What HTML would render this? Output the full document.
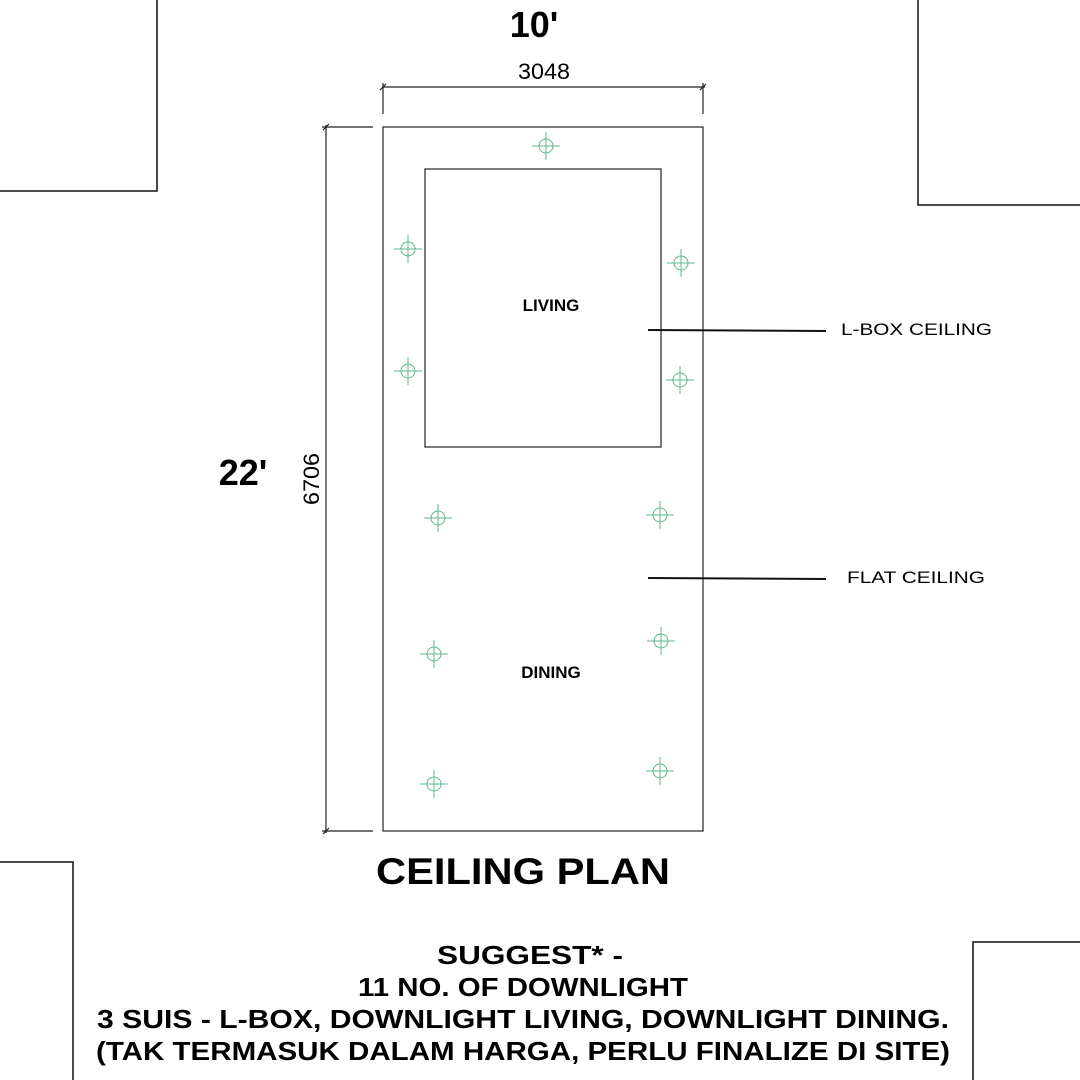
<!DOCTYPE html>
<html><head><style>html,body{margin:0;padding:0;background:#fff}svg{display:block}</style></head>
<body>
<svg width="1080" height="1080" viewBox="0 0 1080 1080" xmlns="http://www.w3.org/2000/svg">
<rect width="1080" height="1080" fill="#fff"/>
<g fill="none" stroke="#111" stroke-width="1.5">
<polyline points="0,191 157,191 157,0"/>
<polyline points="918,0 918,205 1080,205"/>
<polyline points="0,862 73,862 73,1080"/>
<polyline points="973,1080 973,942 1080,942"/>
</g>
<g fill="none" stroke="#222" stroke-width="1.2">
<rect x="383" y="127" width="320" height="704"/>
<rect x="425" y="169" width="236" height="278"/>
<line x1="383" y1="87" x2="705" y2="87"/>
<line x1="383" y1="83" x2="383" y2="114"/>
<line x1="703" y1="83" x2="703" y2="114"/>
<line x1="380" y1="90" x2="386" y2="84"/>
<line x1="700" y1="90" x2="706" y2="84"/>
<line x1="326" y1="125" x2="326" y2="833"/>
<line x1="322" y1="127" x2="373" y2="127"/>
<line x1="322" y1="831" x2="373" y2="831"/>
<line x1="323" y1="130" x2="329" y2="124"/>
<line x1="323" y1="834" x2="329" y2="828"/>
</g>
<g stroke="#111" stroke-width="2">
<line x1="648" y1="330" x2="826" y2="331"/>
<line x1="648" y1="578" x2="826" y2="579"/>
</g>
<g fill="none" stroke="#5fb88a" stroke-width="1">
<g transform="translate(546,146)"><circle r="7"/><line x1="-14" y1="0" x2="14" y2="0"/><line x1="0" y1="-14" x2="0" y2="14"/></g>
<g transform="translate(408,249)"><circle r="7"/><line x1="-14" y1="0" x2="14" y2="0"/><line x1="0" y1="-14" x2="0" y2="14"/></g>
<g transform="translate(681,263)"><circle r="7"/><line x1="-14" y1="0" x2="14" y2="0"/><line x1="0" y1="-14" x2="0" y2="14"/></g>
<g transform="translate(408,371)"><circle r="7"/><line x1="-14" y1="0" x2="14" y2="0"/><line x1="0" y1="-14" x2="0" y2="14"/></g>
<g transform="translate(680,380)"><circle r="7"/><line x1="-14" y1="0" x2="14" y2="0"/><line x1="0" y1="-14" x2="0" y2="14"/></g>
<g transform="translate(438,518)"><circle r="7"/><line x1="-14" y1="0" x2="14" y2="0"/><line x1="0" y1="-14" x2="0" y2="14"/></g>
<g transform="translate(660,515)"><circle r="7"/><line x1="-14" y1="0" x2="14" y2="0"/><line x1="0" y1="-14" x2="0" y2="14"/></g>
<g transform="translate(434,654)"><circle r="7"/><line x1="-14" y1="0" x2="14" y2="0"/><line x1="0" y1="-14" x2="0" y2="14"/></g>
<g transform="translate(661,641)"><circle r="7"/><line x1="-14" y1="0" x2="14" y2="0"/><line x1="0" y1="-14" x2="0" y2="14"/></g>
<g transform="translate(434,784)"><circle r="7"/><line x1="-14" y1="0" x2="14" y2="0"/><line x1="0" y1="-14" x2="0" y2="14"/></g>
<g transform="translate(660,771)"><circle r="7"/><line x1="-14" y1="0" x2="14" y2="0"/><line x1="0" y1="-14" x2="0" y2="14"/></g>
</g>
<g font-family="Liberation Sans, sans-serif" fill="#000">
<text x="534" y="37" font-size="36" font-weight="bold" text-anchor="middle">10'</text>
<text x="544" y="79" font-size="22" text-anchor="middle" textLength="52" lengthAdjust="spacingAndGlyphs">3048</text>
<text x="243" y="485" font-size="36" font-weight="bold" text-anchor="middle">22'</text>
<text transform="translate(319,479) rotate(-90)" font-size="22" text-anchor="middle" textLength="52" lengthAdjust="spacingAndGlyphs">6706</text>
<text x="551" y="311" font-size="17" font-weight="bold" text-anchor="middle">LIVING</text>
<text x="551" y="678" font-size="17" font-weight="bold" text-anchor="middle">DINING</text>
<text x="841" y="335" font-size="17" textLength="151" lengthAdjust="spacingAndGlyphs">L-BOX CEILING</text>
<text x="847" y="583" font-size="17" textLength="138" lengthAdjust="spacingAndGlyphs">FLAT CEILING</text>
<text x="523" y="884" font-size="37" font-weight="bold" text-anchor="middle" textLength="294" lengthAdjust="spacingAndGlyphs">CEILING PLAN</text>
<g font-size="26" font-weight="bold" text-anchor="middle">
<text x="530" y="964" textLength="186" lengthAdjust="spacingAndGlyphs">SUGGEST* -</text>
<text x="523" y="996" textLength="330" lengthAdjust="spacingAndGlyphs">11 NO. OF DOWNLIGHT</text>
<text x="523" y="1028" textLength="852" lengthAdjust="spacingAndGlyphs">3 SUIS - L-BOX, DOWNLIGHT LIVING, DOWNLIGHT DINING.</text>
<text x="523" y="1060" textLength="854" lengthAdjust="spacingAndGlyphs">(TAK TERMASUK DALAM HARGA, PERLU FINALIZE DI SITE)</text>
</g>
</g>
</svg>
</body></html>
